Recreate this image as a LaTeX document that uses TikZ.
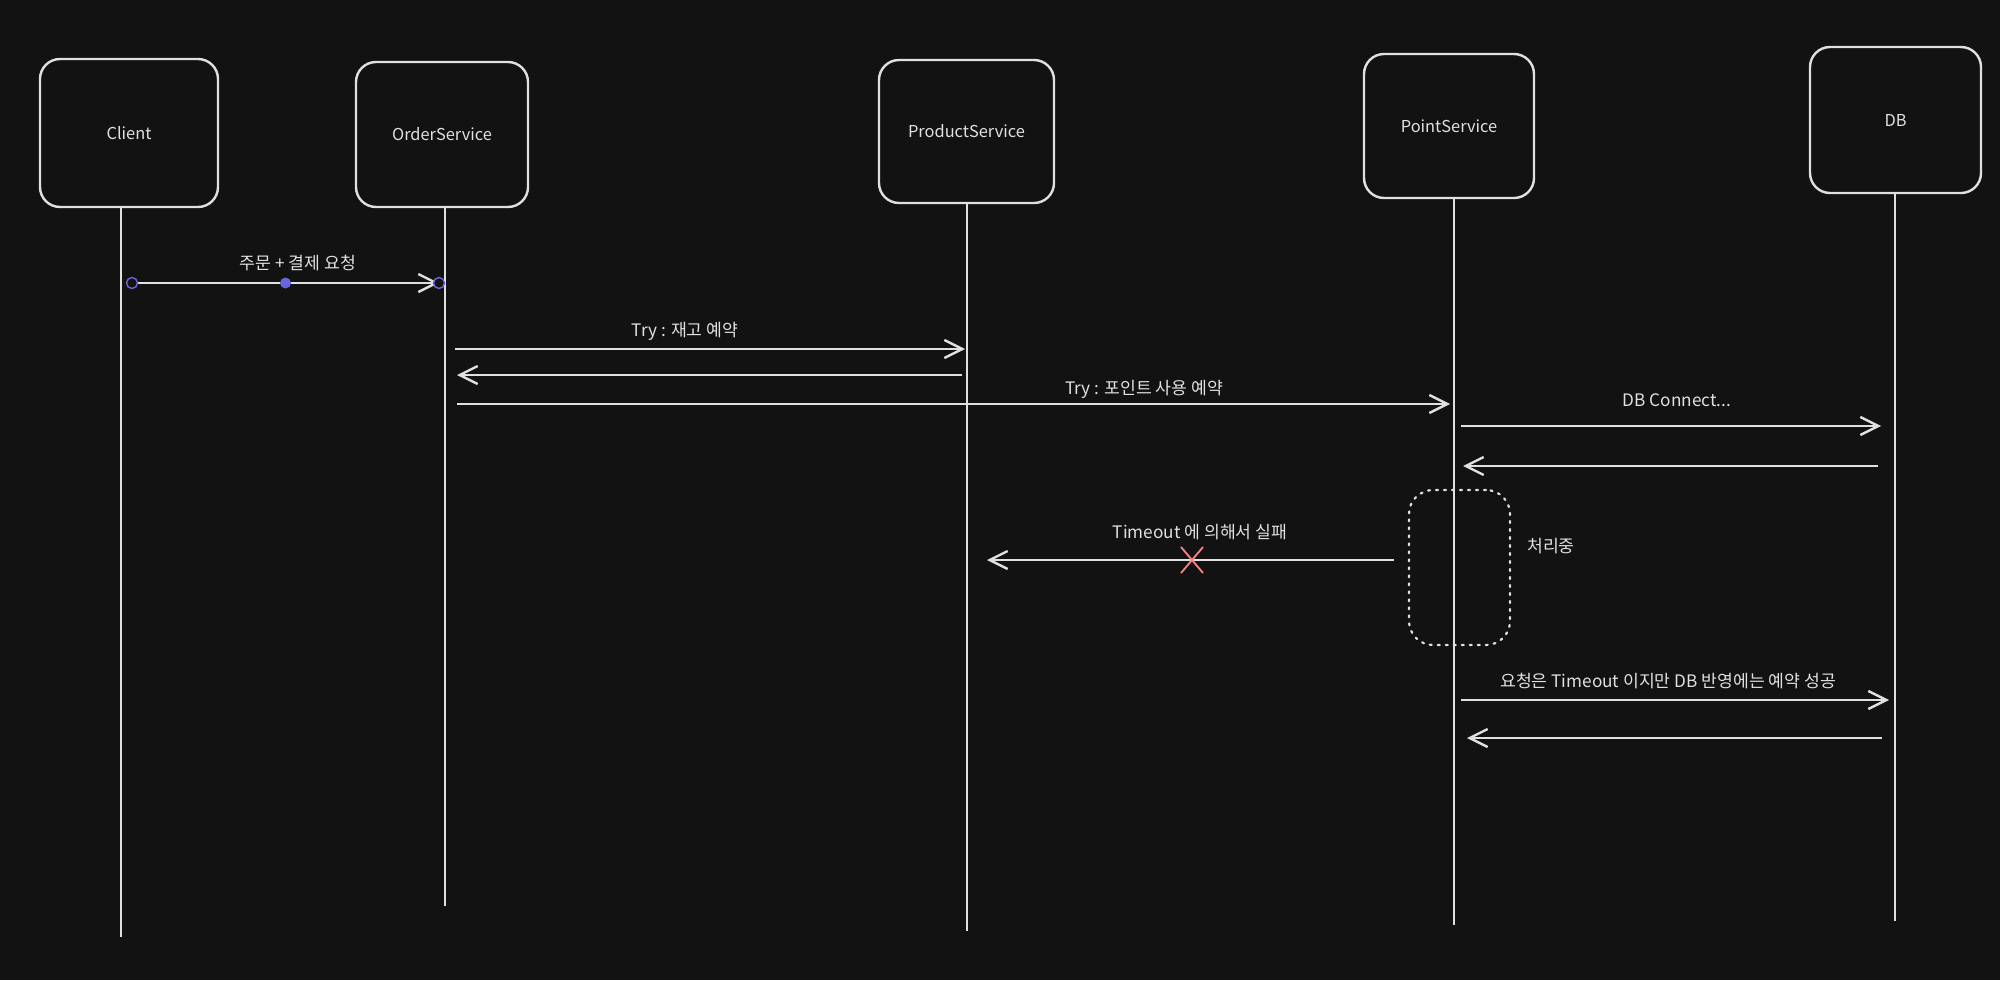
\documentclass[tikz,border=0pt]{standalone}
\usepackage{fontspec}
\setmainfont{Noto Sans CJK KR}
\usetikzlibrary{arrows.meta,calc}
\definecolor{bg}{HTML}{121212}
\definecolor{ink}{HTML}{E0E0E0}
\definecolor{pur}{HTML}{6965DB}
\definecolor{redx}{HTML}{FF8383}
\begin{document}
\begin{tikzpicture}[x=0.5pt,y=-0.5pt,
  actor/.style={draw=ink, line width=1.2pt, rounded corners=10pt, text=ink,
    font=\fontsize{8.2}{10}\selectfont, inner sep=0pt},
  life/.style={draw=ink, line width=1pt},
  msg/.style={draw=ink, line width=1.4pt,
    -{Straight Barb[length=9pt,width=9pt,line width=1.2pt]}},
  lbl/.style={text=ink, font=\fontsize{8.6}{10}\selectfont, inner sep=0pt},
  endpt/.style={circle, draw=pur, fill=bg, line width=0.7pt, minimum size=5.5pt, inner sep=0pt},
  middot/.style={circle, fill=pur, minimum size=5.5pt, inner sep=0pt},
  busy/.style={draw=ink, line width=1.1pt, dash pattern=on 1pt off 3pt, line cap=round,
    rounded corners=12pt, inner sep=0pt}
]
\fill[bg] (0,0) rectangle (2000,980);
\useasboundingbox (0,0) rectangle (2000,980);

% participants
\node[actor, minimum width=89pt, minimum height=74pt] (client) at (129,133) {Client};
\node[actor, minimum width=86pt, minimum height=72.5pt] (order) at (442,134.5) {OrderService};
\node[actor, minimum width=87.5pt, minimum height=71.5pt] (product) at (966.5,131.5) {ProductService};
\node[actor, minimum width=85pt, minimum height=72pt] (point) at (1449,126) {PointService};
\node[actor, minimum width=85.5pt, minimum height=73pt] (db) at (1895.5,120) {DB};

% lifelines
\coordinate (clientB) at (121,937);
\coordinate (orderB) at (445,906);
\coordinate (productB) at (967,931);
\coordinate (pointB) at (1454,925);
\coordinate (dbB) at (1895,921);
\draw[life] (client.south -| clientB) -- (clientB);
\draw[life] (order.south -| orderB) -- (orderB);
\draw[life] (product.south -| productB) -- (productB);
\draw[life] (point.south -| pointB) -- (pointB);
\draw[life] (db.south -| dbB) -- (dbB);

% message 1
\coordinate (m1a) at (132,283);
\coordinate (m1b) at (439,283);
\draw[msg] (m1a) -- (m1b);
\node[endpt] (c1a) at (m1a) {};
\node[endpt] (c1b) at (m1b) {};
\node[middot] (c1m) at ($(m1a)!0.5!(m1b)$) {};
\node[lbl] (l1) at (298,263) {주문 + 결제 요청};

% message 2 / 3
\coordinate (m2a) at (455,349);
\coordinate (m2b) at (965,349);
\draw[msg] (m2a) -- (m2b);
\node[lbl] (l2) at (685,331) {Try : 재고 예약};
\coordinate (m3a) at (962,375);
\coordinate (m3b) at (457,375);
\draw[msg] (m3a) -- (m3b);

% message 4
\coordinate (m4a) at (457,404);
\coordinate (m4b) at (1450,404);
\draw[msg] (m4a) -- (m4b);
\node[lbl] (l4) at (1144,389) {Try : 포인트 사용 예약};

% message 5 / 6
\coordinate (m5a) at (1461,426);
\coordinate (m5b) at (1881,426);
\draw[msg] (m5a) -- (m5b);
\node[lbl] (l5) at (1677,400) {DB Connect...};
\coordinate (m6a) at (1878,466);
\coordinate (m6b) at (1463,466);
\draw[msg] (m6a) -- (m6b);

% processing box
\node[busy, minimum width=50.5pt, minimum height=77.5pt] (busyBox) at (1459.5,567.5) {};
\node[lbl] (l7) at (1551,546) {처리중};

% timeout
\coordinate (m8a) at (1394,560);
\coordinate (m8b) at (987,560);
\draw[msg] (m8a) -- (m8b);
\node[lbl] (l8) at (1200,532) {Timeout 에 의해서 실패};
\coordinate (xc) at (1192,560);
\draw[redx, line width=0.9pt] ($(xc)+(-11,-13)$) -- ($(xc)+(11,13)$);
\draw[redx, line width=0.9pt] ($(xc)+(11,-13)$) -- ($(xc)+(-11,13)$);

% message 10 / 11
\coordinate (m10a) at (1461,700);
\coordinate (m10b) at (1889,700);
\draw[msg] (m10a) -- (m10b);
\node[lbl] (l10) at (1668,681) {요청은 Timeout 이지만 DB 반영에는 예약 성공};
\coordinate (m11a) at (1882,738);
\coordinate (m11b) at (1467,738);
\draw[msg] (m11a) -- (m11b);
\end{tikzpicture}
\end{document}
